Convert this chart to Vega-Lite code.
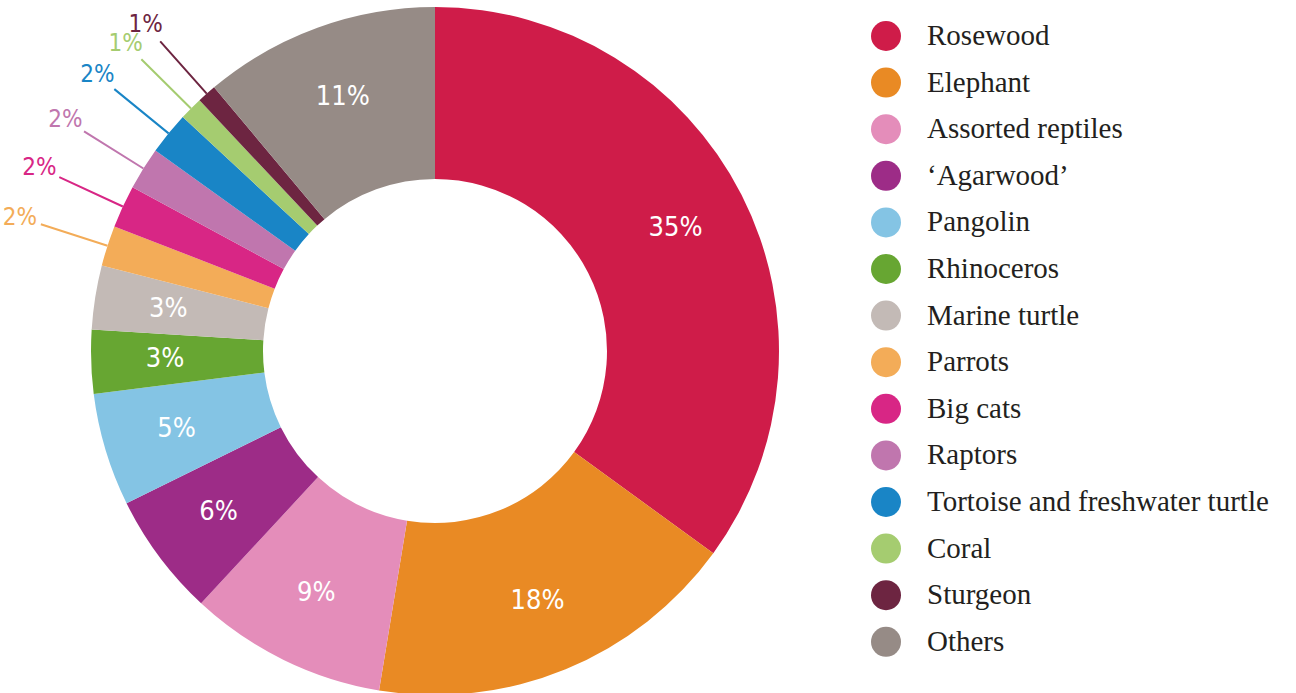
{
  "$schema": "https://vega.github.io/schema/vega-lite/v6.json",
  "width": 870,
  "height": 702,
  "padding": 0,
  "background": "white",
  "config": {"view": {"stroke": null}},
  "data": {
    "values": [
      {"idx": 1, "species": "Rosewood", "value": 35.0, "label": "35%"},
      {"idx": 2, "species": "Elephant", "value": 17.6, "label": "18%"},
      {"idx": 3, "species": "Assorted reptiles", "value": 9.3, "label": "9%"},
      {"idx": 4, "species": "‘Agarwood’", "value": 5.8, "label": "6%"},
      {"idx": 5, "species": "Pangolin", "value": 5.3, "label": "5%"},
      {"idx": 6, "species": "Rhinoceros", "value": 3.0, "label": "3%"},
      {"idx": 7, "species": "Marine turtle", "value": 3.0, "label": "3%"},
      {"idx": 8, "species": "Parrots", "value": 1.9, "label": "2%"},
      {"idx": 9, "species": "Big cats", "value": 2.0, "label": "2%"},
      {"idx": 10, "species": "Raptors", "value": 2.0, "label": "2%"},
      {"idx": 11, "species": "Tortoise and freshwater turtle", "value": 2.0, "label": "2%"},
      {"idx": 12, "species": "Coral", "value": 1.1, "label": "1%"},
      {"idx": 13, "species": "Sturgeon", "value": 0.9, "label": "1%"},
      {"idx": 14, "species": "Others", "value": 11.1, "label": "11%"}
    ]
  },
  "encoding": {
    "theta": {"field": "value", "type": "quantitative", "stack": true},
    "order": {"field": "idx", "type": "quantitative"}
  },
  "layer": [
    {
      "mark": {"type": "arc", "innerRadius": 172, "outerRadius": 344},
      "encoding": {
        "color": {
          "field": "species",
          "type": "nominal",
          "scale": {
            "domain": ["Rosewood", "Elephant", "Assorted reptiles", "‘Agarwood’", "Pangolin", "Rhinoceros", "Marine turtle", "Parrots", "Big cats", "Raptors", "Tortoise and freshwater turtle", "Coral", "Sturgeon", "Others"],
            "range": ["#CF1C49", "#E98A24", "#E48DBA", "#9D2C87", "#84C4E4", "#67A632", "#C3BAB6", "#F3AC58", "#D82685", "#C076AE", "#1985C6", "#A5CC70", "#6D2541", "#968B86"]
          },
          "legend": {
            "orient": "none",
            "legendX": 871,
            "legendY": 21,
            "title": null,
            "padding": 0,
            "symbolType": "circle",
            "symbolSize": 900,
            "symbolStrokeWidth": 0,
            "symbolOpacity": 1,
            "labelFont": "Liberation Serif",
            "labelFontSize": 29,
            "labelColor": "#231F20",
            "labelOffset": 26,
            "labelLimit": 600,
            "rowPadding": 16.6
          }
        }
      }
    },
    {
      "mark": {"type": "arc", "filled": false, "clip": true, "innerRadius": 344, "outerRadius": 414, "padAngle": 0.4, "strokeWidth": 2},
      "encoding": {
        "stroke": {
          "field": "species",
          "type": "nominal",
          "scale": {
            "domain": ["Rosewood", "Elephant", "Assorted reptiles", "‘Agarwood’", "Pangolin", "Rhinoceros", "Marine turtle", "Parrots", "Big cats", "Raptors", "Tortoise and freshwater turtle", "Coral", "Sturgeon", "Others"],
            "range": ["#CF1C49", "#E98A24", "#E48DBA", "#9D2C87", "#84C4E4", "#67A632", "#C3BAB6", "#F3AC58", "#D82685", "#C076AE", "#1985C6", "#A5CC70", "#6D2541", "#968B86"]
          },
          "legend": null
        },
        "strokeOpacity": {"condition": {"test": "datum.value < 2.5", "value": 1}, "value": 0}
      }
    },
    {
      "mark": {"type": "text", "radius": 270, "font": "DejaVu Sans Condensed, Roboto, sans-serif", "fontSize": 27, "fill": "white", "align": "center", "baseline": "middle"},
      "encoding": {
        "detail": {"field": "species", "type": "nominal"},
        "text": {"condition": {"test": "datum.value >= 2.5", "field": "label", "type": "nominal"}, "value": ""}
      }
    },
    {
      "mark": {"type": "text", "clip": true, "radius": 436, "font": "DejaVu Sans Condensed, Roboto, sans-serif", "fontSize": 24, "align": "center", "baseline": "middle"},
      "encoding": {
        "detail": {"field": "species", "type": "nominal"},
        "fill": {
          "field": "species",
          "type": "nominal",
          "scale": {
            "domain": ["Rosewood", "Elephant", "Assorted reptiles", "‘Agarwood’", "Pangolin", "Rhinoceros", "Marine turtle", "Parrots", "Big cats", "Raptors", "Tortoise and freshwater turtle", "Coral", "Sturgeon", "Others"],
            "range": ["#CF1C49", "#E98A24", "#E48DBA", "#9D2C87", "#84C4E4", "#67A632", "#C3BAB6", "#F3AC58", "#D82685", "#C076AE", "#1985C6", "#A5CC70", "#6D2541", "#968B86"]
          },
          "legend": null
        },
        "text": {"condition": {"test": "datum.value < 2.5", "field": "label", "type": "nominal"}, "value": ""}
      }
    }
  ]
}
